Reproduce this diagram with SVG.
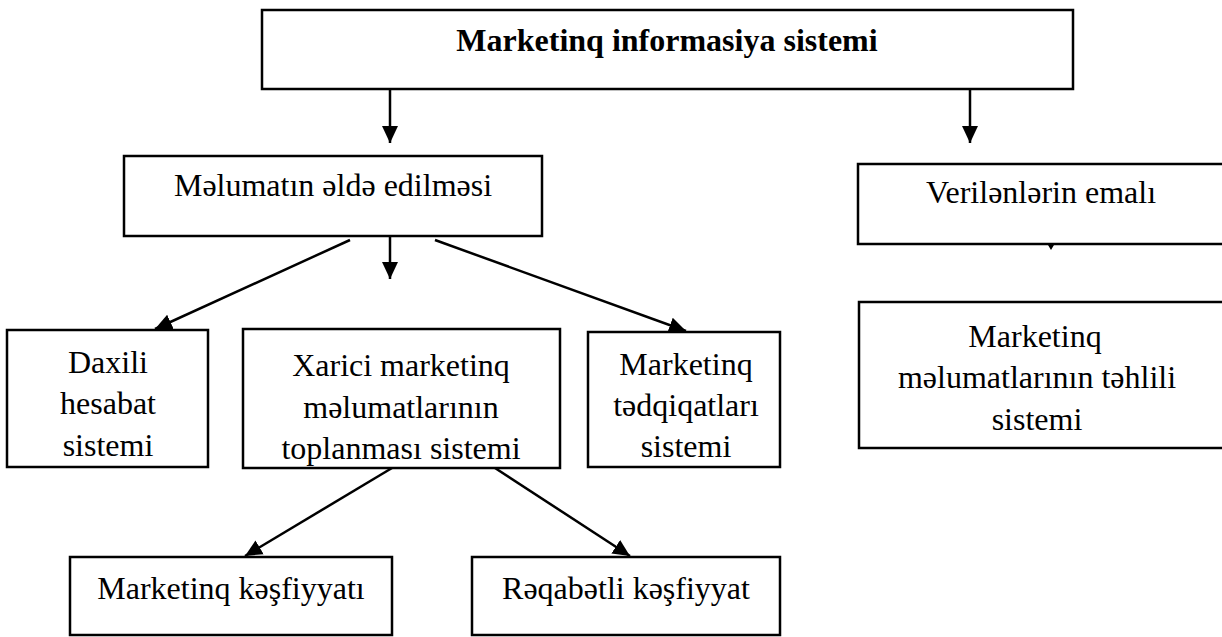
<svg xmlns="http://www.w3.org/2000/svg" width="1222" height="637" viewBox="0 0 1222 637">
<style>
rect.box{fill:#fff;stroke:#000;stroke-width:2.5}
text{font-family:"Liberation Serif","DejaVu Serif","Times New Roman",serif;font-size:32px;fill:#000;text-anchor:middle}
text.title{font-weight:bold}
.conn line{stroke:#000;stroke-width:2.5;marker-end:url(#arr)}
</style>
<defs>
<marker id="arr" markerUnits="userSpaceOnUse" markerWidth="18" markerHeight="18" refX="17" refY="9" orient="auto" viewBox="0 0 18 18">
<path d="M0,1 L17,9 L0,17 z" fill="#000"/>
</marker>
</defs>
<g id="n-top"><rect class="box" x="262" y="10" width="811" height="79"/><text class="title" x="667" y="51">Marketinq informasiya sistemi</text></g>
<g id="n-melumat"><rect class="box" x="124" y="156" width="418" height="80"/><text x="333" y="196">Məlumatın əldə edilməsi</text></g>
<g id="n-veril"><rect class="box" x="858" y="164" width="368" height="80"/><text x="1041" y="203">Verilənlərin emalı</text></g>
<g id="n-tahlil"><rect class="box" x="859" y="302" width="367" height="146"/><text x="1035" y="347">Marketinq</text><text x="1037" y="388">məlumatlarının təhlili</text><text x="1037" y="430">sistemi</text></g>
<g id="n-daxili"><rect class="box" x="7" y="330" width="201" height="137"/><text x="108" y="373">Daxili</text><text x="108" y="414">hesabat</text><text x="108" y="456">sistemi</text></g>
<g id="n-xarici"><rect class="box" x="243" y="329" width="317" height="139"/><text x="401" y="376">Xarici marketinq</text><text x="401" y="418">məlumatlarının</text><text x="401" y="459">toplanması sistemi</text></g>
<g id="n-tedqiq"><rect class="box" x="588" y="332" width="192" height="135"/><text x="686" y="375">Marketinq</text><text x="686" y="416">tədqiqatları</text><text x="686" y="457">sistemi</text></g>
<g id="n-kesf"><rect class="box" x="70" y="557" width="322" height="78"/><text x="231" y="599">Marketinq kəşfiyyatı</text></g>
<g id="n-reqabet"><rect class="box" x="472" y="557" width="308" height="78"/><text x="626" y="599">Rəqabətli kəşfiyyat</text></g>
<g id="connectors" class="conn">
<line x1="390" y1="89" x2="390" y2="143"/>
<line x1="970" y1="89" x2="970" y2="143"/>
<line x1="390" y1="236" x2="390" y2="279"/>
<line x1="350" y1="240" x2="155" y2="329"/>
<line x1="435" y1="240" x2="686" y2="331"/>
<line x1="392" y1="468" x2="245" y2="556"/>
<line x1="495" y1="468" x2="630" y2="556"/>
<path d="M1048,245 L1054,245 L1051,250 z" fill="#000"/>
</g>
</svg>
